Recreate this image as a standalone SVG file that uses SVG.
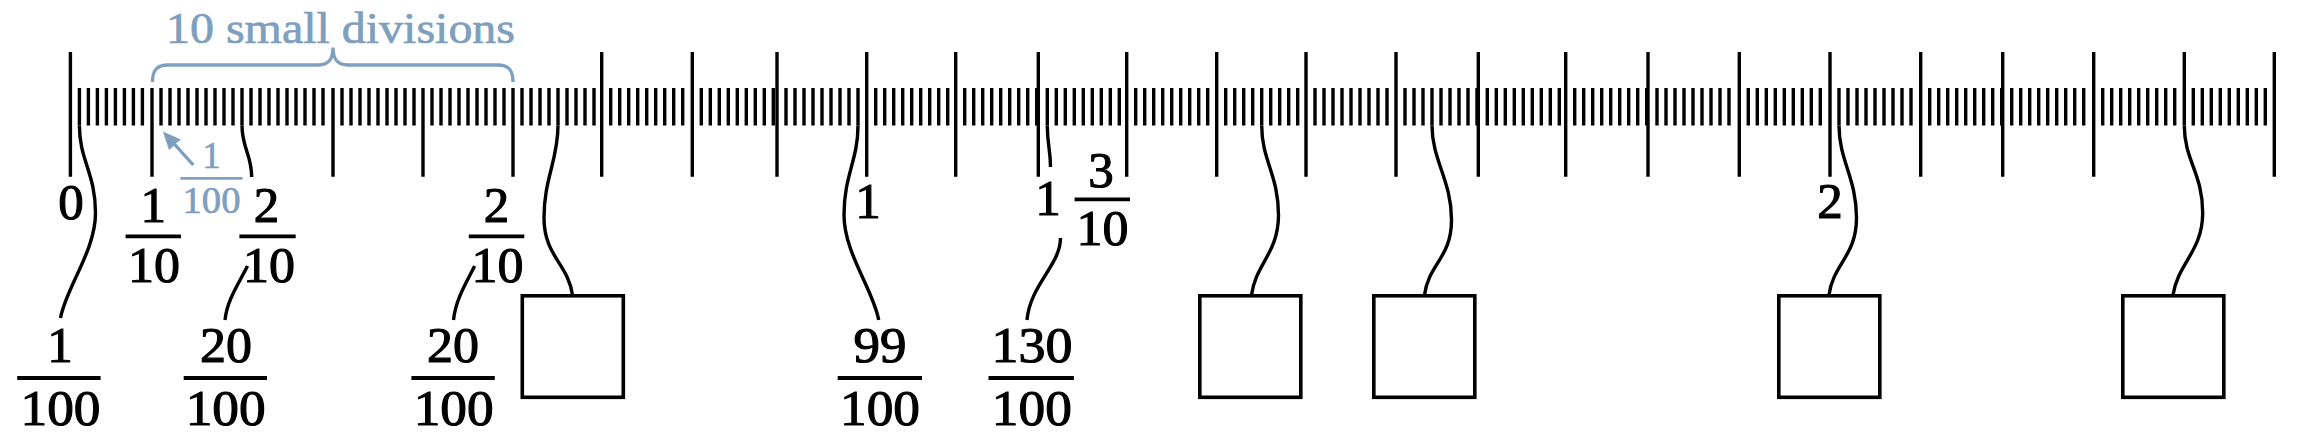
<svg xmlns="http://www.w3.org/2000/svg" width="2323" height="448" viewBox="0 0 2323 448">
<style>
.tk{stroke:#000;stroke-width:3.4;fill:none}
.sm{stroke:#000;stroke-width:37.5;stroke-dasharray:3.4 5.6}
.cn{stroke:#000;stroke-width:3.4;fill:none}
.bar{stroke:#000;stroke-width:3.8}
.n{font-family:"Liberation Serif",serif;font-size:51px;text-anchor:middle;fill:#000;stroke:#000;stroke-width:1.1}
.bl{font-family:"Liberation Serif",serif;text-anchor:middle;fill:#7f9fbe;stroke:#7f9fbe;stroke-width:0.7}
.bx{fill:#fff;stroke:#000;stroke-width:3.6}
</style>
<defs>
<marker id="ah" viewBox="0 -8 18 16" refX="11.6" refY="0" markerWidth="18" markerHeight="16" markerUnits="userSpaceOnUse" orient="auto">
<path d="M0 -8 L18 0 L0 8 Z" fill="#7f9fbe"/>
</marker>
</defs>
<rect width="2323" height="448" fill="#fff"/>
<g id="ruler">
<g id="small-ticks" class="sm">
<line x1="77.7" x2="144.1" y1="106.75" y2="106.75"/>
<line x1="159.3" x2="234.7" y1="106.75" y2="106.75"/>
<line x1="249.3" x2="324.7" y1="106.75" y2="106.75"/>
<line x1="340.3" x2="415.7" y1="106.75" y2="106.75"/>
<line x1="430.3" x2="505.7" y1="106.75" y2="106.75"/>
<line x1="520.3" x2="595.7" y1="106.75" y2="106.75"/>
<line x1="609" x2="684.4" y1="106.75" y2="106.75"/>
<line x1="699.6" x2="775" y1="106.75" y2="106.75"/>
<line x1="784.3" x2="859.7" y1="106.75" y2="106.75"/>
<line x1="874" x2="949.4" y1="106.75" y2="106.75"/>
<line x1="963" x2="1038.4" y1="106.75" y2="106.75"/>
<line x1="1045.6" x2="1121" y1="106.75" y2="106.75"/>
<line x1="1134" x2="1209.4" y1="106.75" y2="106.75"/>
<line x1="1224" x2="1299.4" y1="106.75" y2="106.75"/>
<line x1="1313.3" x2="1388.7" y1="106.75" y2="106.75"/>
<line x1="1403.3" x2="1478.7" y1="106.75" y2="106.75"/>
<line x1="1485.6" x2="1561" y1="106.75" y2="106.75"/>
<line x1="1573" x2="1648.4" y1="106.75" y2="106.75"/>
<line x1="1655.3" x2="1730.7" y1="106.75" y2="106.75"/>
<line x1="1746.6" x2="1822" y1="106.75" y2="106.75"/>
<line x1="1837.3" x2="1912.7" y1="106.75" y2="106.75"/>
<line x1="1928" x2="2003.4" y1="106.75" y2="106.75"/>
<line x1="2010" x2="2085.4" y1="106.75" y2="106.75"/>
<line x1="2101" x2="2176.4" y1="106.75" y2="106.75"/>
<line x1="2191.6" x2="2267" y1="106.75" y2="106.75"/>
</g>
<path id="medium-ticks" class="tk" d="M152 88V176.7M242 88V125.5M333 88V176.7M423 88V176.7M513 88V176.7"/>
<path id="tall-ticks" class="tk" d="M70.4 52V176.7M601.7 52V176.7M692.3 52V176.7M777 52V176.7M866.7 52V176.7M955.7 52V176.7M1038.3 52V176.7M1126.7 52V176.7M1216.7 52V176.7M1306 52V176.7M1396 52V176.7M1478.3 52V176.7M1565.7 52V176.7M1648 52V176.7M1739.3 52V176.7M1830 52V176.7M1920.7 52V176.7M2002.7 52V176.7M2093.7 52V176.7M2184.3 52V125.5M2274.3 52V176.7"/>
</g>
<g id="annotation">
<path d="M152.5 82 C152.5 70 157 65 168 65 L318 65 C328 65 333 60 333 47.5 C333 60 338 65 348 65 L497.5 65 C508.5 65 513 70 513 82" fill="none" stroke="#7f9fbe" stroke-width="3.3"/>
<text class="bl" x="340.5" y="43.3" font-size="44" textLength="349" lengthAdjust="spacingAndGlyphs">10 small divisions</text>
<line x1="193.3" y1="165" x2="167.2" y2="136.2" stroke="#7f9fbe" stroke-width="3.3" marker-end="url(#ah)"/>
<text class="bl" x="211.4" y="167.5" font-size="37">1</text>
<line x1="180.4" x2="242.5" y1="178.3" y2="178.3" stroke="#7f9fbe" stroke-width="2.8"/>
<text class="bl" x="211.5" y="212.7" font-size="37" textLength="58" lengthAdjust="spacingAndGlyphs">100</text>
</g>
<g id="connectors" class="cn">
<path d="M79.4 125.5 C79.4 160.5 95.5 173 95.5 213 C95.5 251 65.8 288 60.5 318"/>
<path d="M242 125.5 C242 148 251.7 155 251.7 177"/>
<path d="M247.5 266 C238.5 284 227 300 225 320"/>
<path d="M474.6 266 C465.6 284 455.5 300 453.5 320"/>
<path d="M558 125.5 C558 160.5 544 178 544 218 C544 256 568.2 264 572.5 295"/>
<path d="M858 125.5 C858 160.5 844 175 844 215 C844 253 873.5 290 878.7 320"/>
<path d="M1047.3 125.5 C1047.3 145 1050.5 150 1050.5 167"/>
<path d="M1060.5 238 C1060.5 265 1030 285 1027 320"/>
<path d="M1261.7 125.5 C1261.7 160.5 1278.5 175 1278.5 215 C1278.5 253 1255.6 264 1251.5 295"/>
<path d="M1432 125.5 C1432 160.5 1451.5 180 1451.5 220 C1451.5 258 1428.5 264 1424.5 295"/>
<path d="M1839 125.5 C1839 160.5 1856.5 178 1856.5 218 C1856.5 256 1833.1 264 1829 295"/>
<path d="M2184.3 125.5 C2184.3 160.5 2202.7 173 2202.7 213 C2202.7 251 2177.5 264 2173 295"/>
</g>
<g id="label-0"><text class="n" x="71" y="218.5">0</text></g>
<g id="label-1-10">
<text class="n" x="153.3" y="221.7">1</text>
<line class="bar" x1="125.6" x2="181" y1="236.3" y2="236.3"/>
<text class="n" x="154" y="281.7" textLength="52" lengthAdjust="spacingAndGlyphs">10</text>
</g>
<g id="label-2-10-a">
<text class="n" x="266.5" y="221.7">2</text>
<line class="bar" x1="239.4" x2="295.7" y1="236.3" y2="236.3"/>
<text class="n" x="269" y="281.7" textLength="52" lengthAdjust="spacingAndGlyphs">10</text>
</g>
<g id="label-2-10-b">
<text class="n" x="496.5" y="221.7">2</text>
<line class="bar" x1="468.8" x2="524.3" y1="236.3" y2="236.3"/>
<text class="n" x="497.5" y="281.7" textLength="52" lengthAdjust="spacingAndGlyphs">10</text>
</g>
<g id="label-1"><text class="n" x="868" y="218.3">1</text></g>
<g id="label-1-3-10">
<text class="n" x="1048" y="215">1</text>
<text class="n" x="1101" y="186.7">3</text>
<line class="bar" x1="1074.6" x2="1130" y1="199.3" y2="199.3"/>
<text class="n" x="1102.5" y="245" textLength="52" lengthAdjust="spacingAndGlyphs">10</text>
</g>
<g id="label-2"><text class="n" x="1830" y="218.3">2</text></g>
<g id="label-1-100">
<text class="n" x="60" y="361.7">1</text>
<line class="bar" x1="17.2" x2="100.6" y1="378" y2="378"/>
<text class="n" x="60.5" y="425" textLength="80" lengthAdjust="spacingAndGlyphs">100</text>
</g>
<g id="label-20-100-a">
<text class="n" x="226" y="361.7" textLength="52" lengthAdjust="spacingAndGlyphs">20</text>
<line class="bar" x1="183.7" x2="267" y1="378" y2="378"/>
<text class="n" x="225.7" y="425" textLength="80" lengthAdjust="spacingAndGlyphs">100</text>
</g>
<g id="label-20-100-b">
<text class="n" x="453" y="361.7" textLength="52" lengthAdjust="spacingAndGlyphs">20</text>
<line class="bar" x1="411.4" x2="494.8" y1="378" y2="378"/>
<text class="n" x="453.7" y="425" textLength="80" lengthAdjust="spacingAndGlyphs">100</text>
</g>
<g id="label-99-100">
<text class="n" x="880" y="361.7" textLength="53" lengthAdjust="spacingAndGlyphs">99</text>
<line class="bar" x1="837.7" x2="922" y1="378" y2="378"/>
<text class="n" x="880" y="425" textLength="80" lengthAdjust="spacingAndGlyphs">100</text>
</g>
<g id="label-130-100">
<text class="n" x="1032" y="361.7" textLength="81" lengthAdjust="spacingAndGlyphs">130</text>
<line class="bar" x1="988.5" x2="1073.9" y1="378" y2="378"/>
<text class="n" x="1031.8" y="425" textLength="80" lengthAdjust="spacingAndGlyphs">100</text>
</g>
<g id="box-1"><rect class="bx" x="522.3" y="295.8" width="101" height="101.5"/></g>
<g id="box-2"><rect class="bx" x="1199.8" y="295.8" width="101" height="101.5"/></g>
<g id="box-3"><rect class="bx" x="1373.8" y="295.8" width="101" height="101.5"/></g>
<g id="box-4"><rect class="bx" x="1778.8" y="295.8" width="101" height="101.5"/></g>
<g id="box-5"><rect class="bx" x="2122.8" y="295.8" width="101" height="101.5"/></g>
</svg>
